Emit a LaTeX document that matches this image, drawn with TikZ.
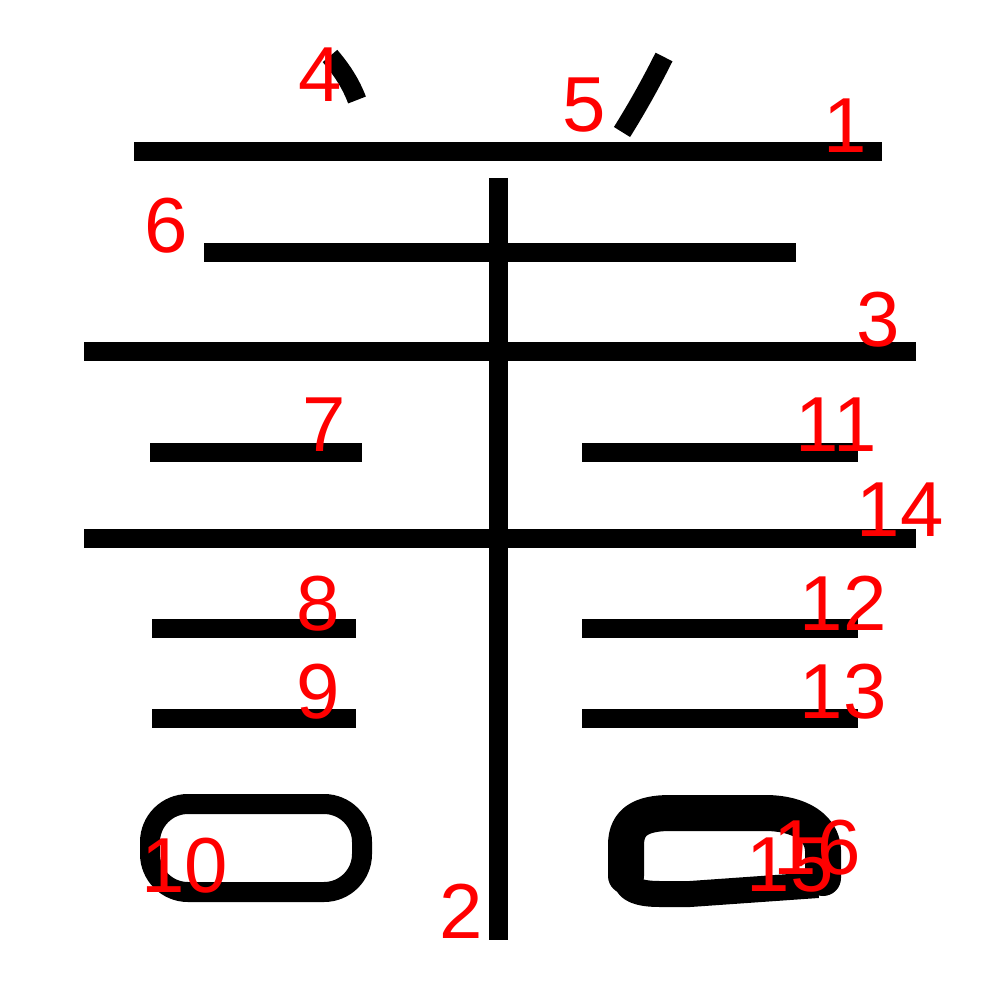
\documentclass[tikz,border=0pt]{standalone}
\usepackage{fontspec}
\setmainfont{Liberation Sans}
\tikzset{
  strk/.style={line width=19pt, black},
  lbl/.style={text=red, inner sep=0pt, font=\fontsize{78}{78}\selectfont},
}
\begin{document}
\begin{tikzpicture}[x=1pt,y=-1pt]
\useasboundingbox (0,0) rectangle (1000,1000);
% horizontal strokes
\draw[strk] (134,152) -- (882,152);
\draw[strk] (498,178) -- (498,940);
\draw[strk] (204,252) -- (796,252);
\draw[strk] (84,351) -- (916,351);
\draw[strk] (150,452) -- (362,452);
\draw[strk] (582,452) -- (858,452);
\draw[strk] (84,538) -- (916,538);
\draw[strk] (152,628) -- (356,628);
\draw[strk] (582,628) -- (858,628);
\draw[strk] (152,718) -- (356,718);
\draw[strk] (582,718) -- (858,718);
% top dots
\draw[strk] (330,56) .. controls (342,70) and (351,84) .. (357,100);
\draw[strk] (664,57) .. controls (651,83) and (637,108) .. (622,132);
% bottom left box
\draw[line width=20pt, rounded corners=38pt] (150,804) rectangle (362,892);
% bottom right shape
\draw[line width=36pt, line cap=round, line join=round]
  (626,876) -- (626,845) .. controls (626,822) and (641,813) .. (670,813)
  -- (765,813) .. controls (800,813) and (822,828) .. (823,850) -- (823,878);
\draw[line width=26pt, line join=round]
  (626,878) .. controls (626,890) and (640,894) .. (660,894)
  -- (690,894) -- (818,885);
% labels
\node[lbl] (l1) at (845,126) {1};
\node[lbl] (l2) at (461,911) {2};
\node[lbl] (l3) at (878,320) {3};
\node[lbl] (l4) at (320,75) {4};
\node[lbl] (l5) at (584,105) {5};
\node[lbl] (l6) at (166,226) {6};
\node[lbl] (l7) at (324,425) {7};
\node[lbl] (l8) at (318,604) {8};
\node[lbl] (l9) at (318,692) {9};
\node[lbl] (l10) at (185,866) {10};
\node[lbl] (l11) at (836,425) {11};
\node[lbl] (l12) at (843,603) {12};
\node[lbl] (l13) at (843,692) {13};
\node[lbl] (l14) at (900,510) {14};
\node[lbl] (l15) at (790,865) {15};
\node[lbl] (l16) at (817,848) {16};
\end{tikzpicture}
\end{document}
